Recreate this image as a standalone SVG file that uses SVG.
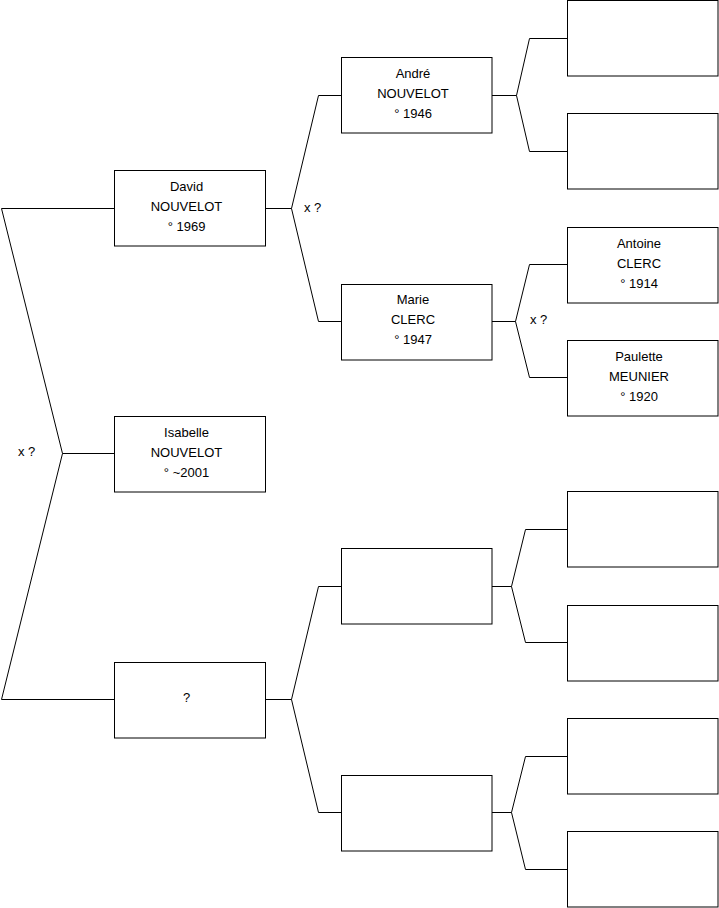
<svg xmlns="http://www.w3.org/2000/svg" width="719" height="908" viewBox="0 0 719 908">
<style>
.box{fill:#fff;stroke:#000;stroke-width:1}
.ln{fill:none;stroke:#000;stroke-width:1}
text{font-family:"Liberation Sans",Arial,sans-serif;font-size:13px;fill:#000}
.c{text-anchor:middle}
</style>
<rect width="719" height="908" fill="#fff"/>
<g id="connectors">
<polyline class="ln" points="114,208.5 1.5,208.5 62.5,453.5 1.5,699.5 114,699.5"/>
<line class="ln" x1="62.5" y1="453.5" x2="114" y2="453.5"/>
<polyline class="ln" points="341,95.5 318.5,95.5 291.5,208.5 318.5,321.5 341,321.5"/>
<line class="ln" x1="265" y1="208.5" x2="291.5" y2="208.5"/>
<polyline class="ln" points="567,38.5 529.5,38.5 516.5,95.5 529.5,151.5 567,151.5"/>
<line class="ln" x1="492" y1="95.5" x2="516.5" y2="95.5"/>
<polyline class="ln" points="567,264.5 529.5,264.5 515.5,321.5 529.5,377.5 567,377.5"/>
<line class="ln" x1="492" y1="321.5" x2="515.5" y2="321.5"/>
<polyline class="ln" points="341,586.5 318.5,586.5 291.5,699.5 318.5,812.5 341,812.5"/>
<line class="ln" x1="265" y1="699.5" x2="291.5" y2="699.5"/>
<polyline class="ln" points="567,529.5 525.5,529.5 511.5,586.5 525.5,642.5 567,642.5"/>
<line class="ln" x1="492" y1="586.5" x2="511.5" y2="586.5"/>
<polyline class="ln" points="567,756.5 525.5,756.5 511.5,812.5 525.5,869.5 567,869.5"/>
<line class="ln" x1="492" y1="812.5" x2="511.5" y2="812.5"/>
<text x="18" y="456">x ?</text>
<text x="304" y="212">x ?</text>
<text x="530" y="324">x ?</text>
</g>
<g id="david">
<rect class="box" x="114.5" y="170.5" width="151" height="75.5"/>
<text class="c" x="186.5" y="191">David</text>
<text class="c" x="186.5" y="211">NOUVELOT</text>
<text class="c" x="186.5" y="231">° 1969</text>
</g>
<g id="isabelle">
<rect class="box" x="114.5" y="416.5" width="151" height="75.5"/>
<text class="c" x="186.5" y="437">Isabelle</text>
<text class="c" x="186.5" y="457">NOUVELOT</text>
<text class="c" x="186.5" y="477">° ~2001</text>
</g>
<g id="unknown">
<rect class="box" x="114.5" y="662.5" width="151" height="75.5"/>
<text class="c" x="186.5" y="702">?</text>
</g>
<g id="andre">
<rect class="box" x="341.5" y="57.5" width="150.5" height="75.5"/>
<text class="c" x="413" y="78">André</text>
<text class="c" x="413" y="98">NOUVELOT</text>
<text class="c" x="413" y="118">° 1946</text>
</g>
<g id="marie">
<rect class="box" x="341.5" y="284.5" width="150.5" height="75.5"/>
<text class="c" x="413" y="304">Marie</text>
<text class="c" x="413" y="324">CLERC</text>
<text class="c" x="413" y="344">° 1947</text>
</g>
<g id="gp1">
<rect class="box" x="341.5" y="548.5" width="150.5" height="75.5"/>
</g>
<g id="gp2">
<rect class="box" x="341.5" y="775.5" width="150.5" height="75.5"/>
</g>
<g id="ggp1"><rect class="box" x="567.5" y="0.5" width="150.5" height="75.5"/></g>
<g id="ggp2"><rect class="box" x="567.5" y="113.5" width="150.5" height="75.5"/></g>
<g id="antoine">
<rect class="box" x="567.5" y="227.5" width="150.5" height="75.5"/>
<text class="c" x="639" y="248">Antoine</text>
<text class="c" x="639" y="268">CLERC</text>
<text class="c" x="639" y="288">° 1914</text>
</g>
<g id="paulette">
<rect class="box" x="567.5" y="340.5" width="150.5" height="75.5"/>
<text class="c" x="639" y="361">Paulette</text>
<text class="c" x="639" y="381">MEUNIER</text>
<text class="c" x="639" y="401">° 1920</text>
</g>
<g id="ggp5"><rect class="box" x="567.5" y="491.5" width="150.5" height="75.5"/></g>
<g id="ggp6"><rect class="box" x="567.5" y="605.5" width="150.5" height="75.5"/></g>
<g id="ggp7"><rect class="box" x="567.5" y="718.5" width="150.5" height="75.5"/></g>
<g id="ggp8"><rect class="box" x="567.5" y="831.5" width="150.5" height="75.5"/></g>
</svg>
